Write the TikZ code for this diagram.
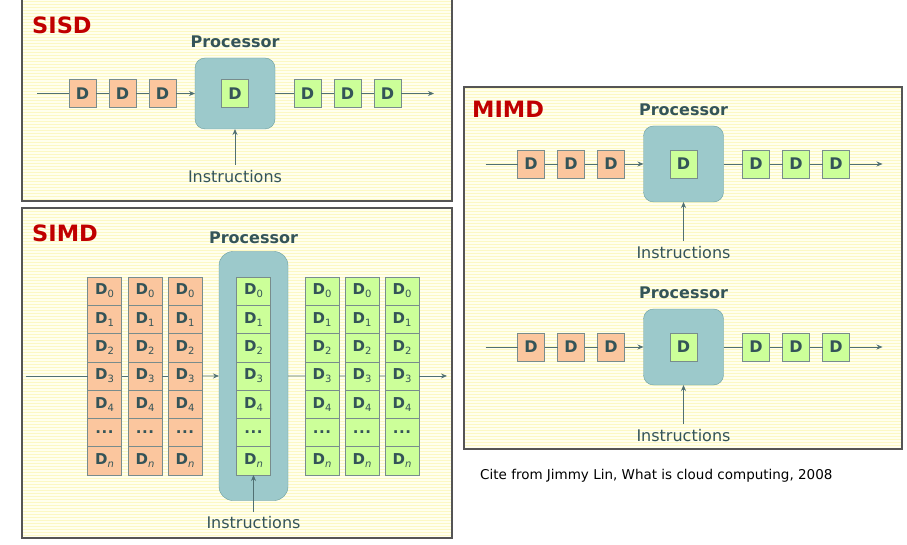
\documentclass[tikz,border=0pt]{standalone}
\usepackage{fontspec}
\setmainfont{DejaVu Sans}
\usepackage{tikz}
\usetikzlibrary{arrows.meta,positioning,patterns}

\definecolor{paper}{RGB}{255,255,238}
\definecolor{stripe}{RGB}{252,248,196}
\definecolor{framegray}{RGB}{85,85,85}
\definecolor{titlered}{RGB}{192,0,0}
\definecolor{slate}{RGB}{52,84,88}
\definecolor{peach}{RGB}{251,198,158}
\definecolor{lime}{RGB}{204,255,153}
\definecolor{procteal}{RGB}{156,201,203}
\definecolor{procedge}{RGB}{108,158,160}
\definecolor{celledge}{RGB}{120,140,140}
\definecolor{flowline}{RGB}{80,112,114}

\newcommand{\Dsub}[1]{D{\fontsize{10}{10}\selectfont\mdseries\raisebox{-3pt}{#1}}}

\begin{document}
\begin{tikzpicture}[x=1pt, y=-1pt,
        panel/.style={draw=framegray, line width=1.2pt},
        stripes/.style={pattern=horizontal lines, pattern color=stripe},
        title/.style={anchor=west, inner sep=0pt, text=titlered,
                      font=\bfseries\fontsize{22.5}{22.5}\selectfont},
        proclabel/.style={inner sep=0pt, text=slate, font=\bfseries\fontsize{16}{16}\selectfont},
        instr/.style={inner sep=5pt, text=slate, font=\fontsize{16}{16}\selectfont},
        proc/.style={rectangle, rounded corners=10pt, draw=procedge, fill=procteal,
                     minimum width=80pt, outer sep=0pt},
        dbox/.style={rectangle, draw=celledge, minimum width=27pt, minimum height=28pt,
                     outer sep=0pt, inner sep=0pt, text=slate,
                     font=\bfseries\fontsize{16}{16}\selectfont},
        din/.style={dbox, fill=peach},
        dout/.style={dbox, fill=lime},
        cell/.style={rectangle, draw=celledge, minimum width=34pt, minimum height=28.3pt,
                     outer sep=0pt, inner sep=0pt, text=slate,
                     font=\bfseries\fontsize{15}{15}\selectfont},
        flow/.style={draw=flowline, line width=0.8pt},
        arrow/.style={flow, -{Stealth[length=6pt, width=5pt]}}
    ]
    \useasboundingbox (0,0) rectangle (907,545);

    % panels
    \foreach \xa/\ya/\xb/\yb in {22/-5/452/201, 22/208/452/538, 464/87/902/449} {
        \fill[paper] (\xa,\ya) rectangle (\xb,\yb);
        \fill[stripes] (\xa,\ya) rectangle (\xb,\yb);
        \draw[panel] (\xa,\ya) rectangle (\xb,\yb);
    }

    \node[title] (sisdT) at (32,25)  {SISD};
    \node[title] (simdT) at (32,233) {SIMD};
    \node[title] (mimdT) at (472,109) {MIMD};

    % single-stream pipelines (SISD and both MIMD rows)
    \foreach \p/\cx/\cy/\h/\g in {sisd/235/93.5/71/36, mimdA/683.5/164/76/39, mimdB/683.5/347/76/39} {
        \node[proc, minimum height=\h] (\p-P) at (\cx,\cy) {};
        \node[dout] (\p-X) at (\p-P) {D};
        \node[proclabel, above=10pt of \p-P] (\p-L) {Processor};
        \node[instr, below=\g pt of \p-P] (\p-ins) {Instructions};

        \node[din, left=19pt of \p-P]    (\p-in3) {D};
        \node[din, left=13pt of \p-in3]  (\p-in2) {D};
        \node[din, left=13pt of \p-in2]  (\p-in1) {D};
        \node[dout, right=19pt of \p-P]  (\p-out1) {D};
        \node[dout, right=13pt of \p-out1] (\p-out2) {D};
        \node[dout, right=13pt of \p-out2] (\p-out3) {D};
        \coordinate[left=32pt of \p-in1] (\p-S);
        \coordinate[right=33pt of \p-out3] (\p-E);

        \draw[flow] (\p-S) -- (\p-in1) -- (\p-in2) -- (\p-in3);
        \draw[arrow] (\p-in3) -- (\p-P);
        \draw[flow] (\p-P) -- (\p-out1) -- (\p-out2) -- (\p-out3);
        \draw[arrow] (\p-out3) -- (\p-E);
        \draw[arrow] (\p-ins) -- (\p-P);
    }

    % SIMD
    \node[proc, rounded corners=14pt, minimum width=69pt, minimum height=249pt] (simd-P) at (253.5,376) {};
    \node[proclabel, above=8pt of simd-P] (simd-L) {Processor};
    \foreach \col/\cx/\sty in {a1/104.5/peach, a2/145/peach, a3/185/peach, p/253.5/lime,
                               b1/322/lime, b2/362/lime, b3/402/lime}
        \foreach \r/\t in {0/{\Dsub{0}}, 1/{\Dsub{1}}, 2/{\Dsub{2}}, 3/{\Dsub{3}}, 4/{\Dsub{4}},
                           5/{.\kern0.5pt.\kern0.5pt.}, 6/{\Dsub{\itshape n}}}
            \node[cell, fill=\sty] (\col-\r) at (\cx,{291.1+28.29*\r}) {\t};
    \coordinate[left=62pt of a1-3] (simd-S);
    \coordinate[right=28pt of b3-3] (simd-E);
    \node[instr] (simd-ins) at (253.5,523) {Instructions};

    \draw[flow] (simd-S) -- (a1-3) -- (a2-3) -- (a3-3);
    \draw[arrow] (a3-3) -- (simd-P);
    \draw[flow] (simd-P) -- (b1-3) -- (b2-3) -- (b3-3);
    \draw[arrow] (b3-3) -- (simd-E);
    \draw[arrow] (simd-ins) -- (p-6);

    \node[anchor=west, inner sep=0pt, font=\fontsize{13.5}{13.5}\selectfont] (cite) at (480,476)
        {Cite from Jimmy Lin, What is cloud computing, 2008};
\end{tikzpicture}
\end{document}
